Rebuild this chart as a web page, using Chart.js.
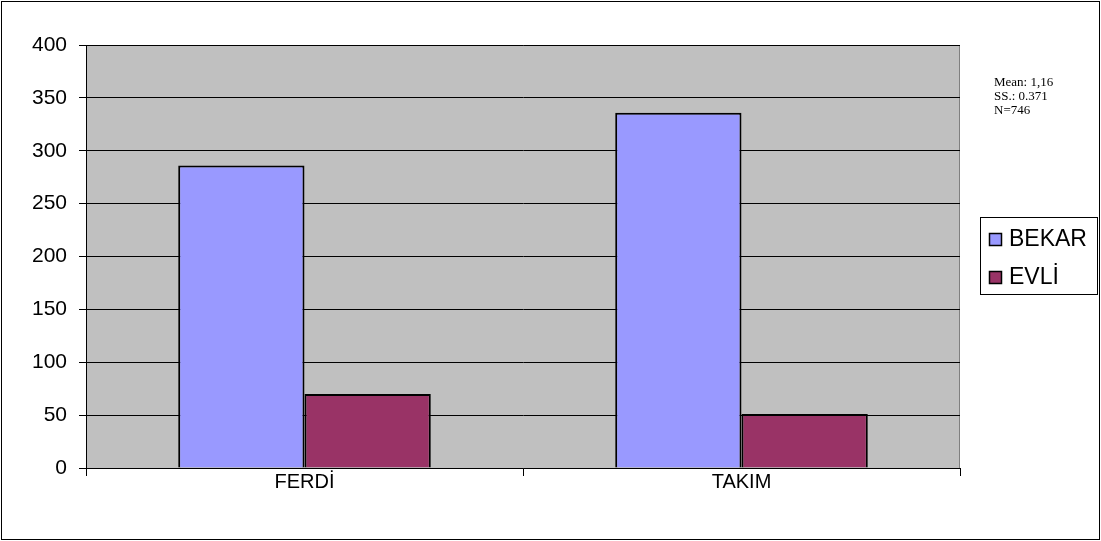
<!DOCTYPE html>
<html>
<head>
<meta charset="utf-8">
<script src="https://cdn.jsdelivr.net/npm/chart.js@4/dist/chart.umd.min.js"></script>
<style>
  html, body { margin: 0; padding: 0; background: #fff; }
  #wrap { width: 1101px; height: 541px; position: relative; }
</style>
</head>
<body>
<div id="wrap"><canvas id="c"></canvas></div>
<script>
// categories and values
const categories = ['FERDİ', 'TAKIM'];
const seriesNames = ['BEKAR', 'EVLİ'];
const bekar = [286, 336];
const evli = [70, 51];
const colors = ['#9999FF', '#993366'];
const notes = ['Mean: 1,16', 'SS.: 0.371', 'N=746'];

const FONT = '"Liberation Sans", Arial, sans-serif';

/* fond gris + cadre */
const frame = {
  id: 'frame',
  beforeDraw(chart) {
    const ctx = chart.ctx, a = chart.chartArea;
    ctx.save();
    ctx.fillStyle = '#fff';
    ctx.fillRect(0, 0, chart.width, chart.height);
    ctx.fillStyle = '#C0C0C0';
    ctx.fillRect(a.left, a.top, a.right - a.left, a.bottom - a.top);
    ctx.strokeStyle = '#000';
    ctx.lineWidth = 1;
    ctx.strokeRect(1.5, 1.5, chart.width - 3, chart.height - 3);
    ctx.strokeStyle = '#808080';
    ctx.beginPath();
    ctx.moveTo(a.left, a.top + 0.5);
    ctx.lineTo(a.right - 0.5, a.top + 0.5);
    ctx.lineTo(a.right - 0.5, a.bottom);
    ctx.stroke();
    ctx.restore();
  },
  afterDraw(chart) {
    const ctx = chart.ctx;
    ctx.save();
    // notes
    ctx.fillStyle = '#000';
    ctx.font = '13px "Liberation Serif", serif';
    ctx.textBaseline = 'top';
    notes.forEach((t, i) => ctx.fillText(t, 994, 76 + i * 14));
    // légende
    ctx.strokeStyle = '#000';
    ctx.lineWidth = 1;
    ctx.strokeRect(980.5, 217.5, 117, 77);
    ctx.font = '23px ' + FONT;
    ctx.textBaseline = 'middle';
    chart.data.datasets.forEach((ds, i) => {
      const y = 239 + i * 38;
      ctx.fillStyle = ds.backgroundColor;
      ctx.fillRect(989.5, y - 5.5, 12, 12);
      ctx.strokeStyle = '#000';
      ctx.lineWidth = 1.5;
      ctx.strokeRect(989.5, y - 5.5, 12, 12);
      ctx.fillStyle = '#000';
      ctx.fillText(ds.label, 1009, y + 1);
    });
    ctx.restore();
  }
};

new Chart(document.getElementById('c'), {
  type: 'bar',
  data: {
    labels: categories,
    datasets: [
      { label: seriesNames[0], data: bekar, backgroundColor: colors[0], borderColor: '#000', borderWidth: 2 },
      { label: seriesNames[1], data: evli, backgroundColor: colors[1], borderColor: '#000', borderWidth: 2 }
    ]
  },
  options: {
    responsive: true,
    maintainAspectRatio: false,
    animation: false,
    layout: { padding: { left: 20, right: 141, top: 45, bottom: 53 } },
    plugins: { legend: { display: false }, tooltip: { enabled: false } },
    datasets: { bar: { categoryPercentage: 0.578, barPercentage: 1 } },
    scales: {
      x: {
        grid: { display: true, offset: true, drawOnChartArea: false, color: '#000', tickLength: 8 },
        border: { color: '#000' },
        ticks: { color: '#000', font: { family: FONT, size: 20 }, padding: -6 }
      },
      y: {
        min: 0, max: 400,
        afterFit(scale) { scale.width = 66; },
        ticks: { stepSize: 50, color: '#000', font: { family: FONT, size: 21 }, padding: 12 },
        grid: { color: '#000', tickLength: 7 },
        border: { color: '#000' }
      }
    }
  },
  plugins: [frame]
});
</script>
</body>
</html>
